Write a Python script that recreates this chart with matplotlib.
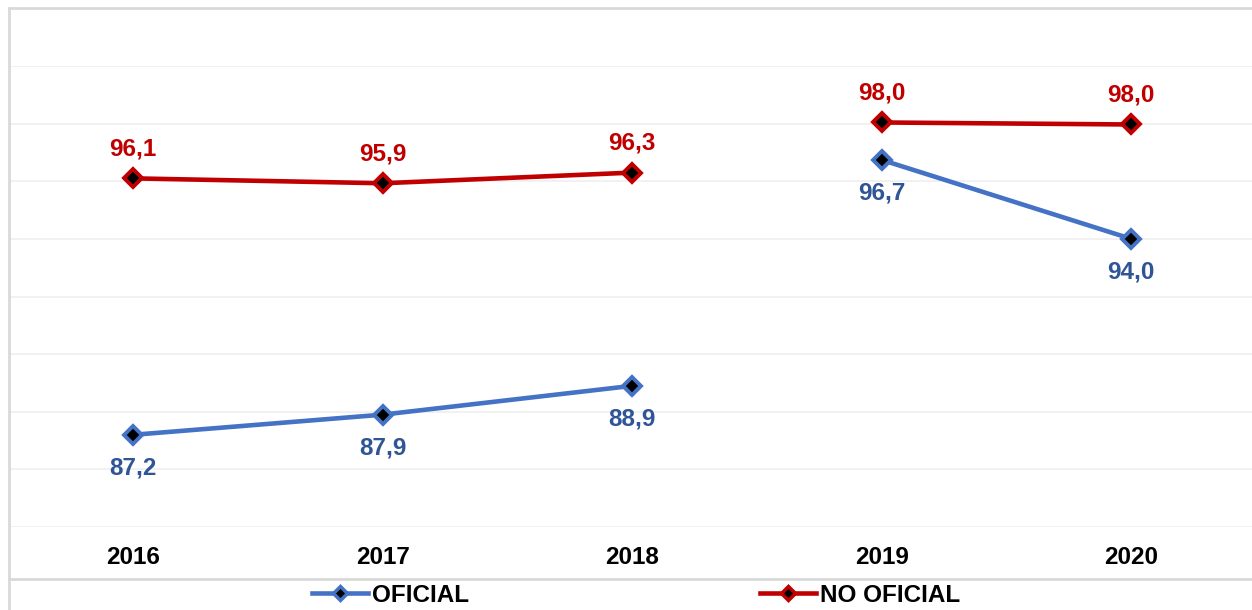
import matplotlib.pyplot as plt
from matplotlib import font_manager
from matplotlib.lines import Line2D

# pick the regular-width bold Liberation Sans (Arial metrics), not the Narrow one
bold_path = None
for f in font_manager.fontManager.ttflist:
    if f.name == 'Liberation Sans' and f.weight in (700, 'bold') and f.style == 'normal' \
            and 'Narrow' not in f.fname:
        bold_path = f.fname
        break
if bold_path:
    fp = font_manager.FontProperties(fname=bold_path, size=17.5)
else:
    fp = font_manager.FontProperties(family='DejaVu Sans', weight='bold', size=16)

years = ['2016', '2017', '2018', '2019', '2020']
oficial = [87.2, 87.9, 88.9, 96.74, 94.0]
no_oficial = [96.1, 95.93, 96.3, 98.04, 97.97]
# the lines are broken between 2018 and 2019
segments = [(0, 3), (3, 5)]

blue = '#4472C4'
blue_txt = '#2F5597'
red = '#C00000'

fig = plt.figure(figsize=(12.52, 6.10), dpi=100)
ax = fig.add_axes([8.5 / 1252, 1 - 527 / 610, 1247.5 / 1252, (527 - 66) / 610])
ax.set_xlim(-0.5, 4.5)
ax.set_ylim(84, 100)
ax.set_yticks(range(84, 101, 2))
ax.yaxis.grid(True, color='#efefef', lw=1.2, zorder=0)
ax.tick_params(left=False, labelleft=False, bottom=False)
for s in ax.spines.values():
    s.set_visible(False)
ax.set_xticks(range(len(years)))
ax.set_xticklabels(years, fontproperties=fp)
ax.tick_params(axis='x', pad=10)

x = list(range(len(years)))

# hidden connector between 2018 and 2019 shows as white gaps in the gridlines
ax.plot(x, oficial, color='white', lw=2, zorder=1)
ax.plot(x, no_oficial, color='white', lw=2, zorder=1)

mk = dict(marker='D', markersize=9.5, markerfacecolor='black', markeredgewidth=2.8)
for a, b in segments:
    ax.plot(x[a:b], oficial[a:b], color=blue, lw=3.3, markeredgecolor=blue, zorder=3, **mk)
    ax.plot(x[a:b], no_oficial[a:b], color=red, lw=3.3, markeredgecolor=red, zorder=3, **mk)

for i in x:
    ax.annotate(f'{oficial[i]:.1f}'.replace('.', ','), (i, oficial[i]), xytext=(0, -24),
                textcoords='offset points', ha='center', va='center',
                fontproperties=fp, color=blue_txt)
    ax.annotate(f'{no_oficial[i]:.1f}'.replace('.', ','), (i, no_oficial[i]), xytext=(0, 21),
                textcoords='offset points', ha='center', va='center',
                fontproperties=fp, color=red)

# chart frame (cropped on the right)
frame = '#d9d9d9'
fig.add_artist(Line2D([9 / 1252, 9 / 1252], [0, 1 - 8 / 610], color=frame, lw=2))
fig.add_artist(Line2D([9 / 1252, 1], [1 - 8 / 610, 1 - 8 / 610], color=frame, lw=2))
fig.add_artist(Line2D([9 / 1252, 1], [1 - 579 / 610, 1 - 579 / 610], color=frame, lw=2))

handles = [
    Line2D([], [], color=blue, lw=3.3, marker='D', markersize=7, markerfacecolor='black',
           markeredgecolor=blue, markeredgewidth=2.5),
    Line2D([], [], color=red, lw=3.3, marker='D', markersize=7, markerfacecolor='black',
           markeredgecolor=red, markeredgewidth=2.5),
]
leg = fig.legend(handles, ['OFICIAL', 'NO OFICIAL'], loc='center', ncol=2,
                 bbox_to_anchor=(636 / 1252, 1 - 595 / 610), frameon=False,
                 prop=fp, handlelength=2.3,
                 handletextpad=0.15, columnspacing=12, borderpad=0)

fig.savefig('out.png', dpi=100, facecolor='white')
